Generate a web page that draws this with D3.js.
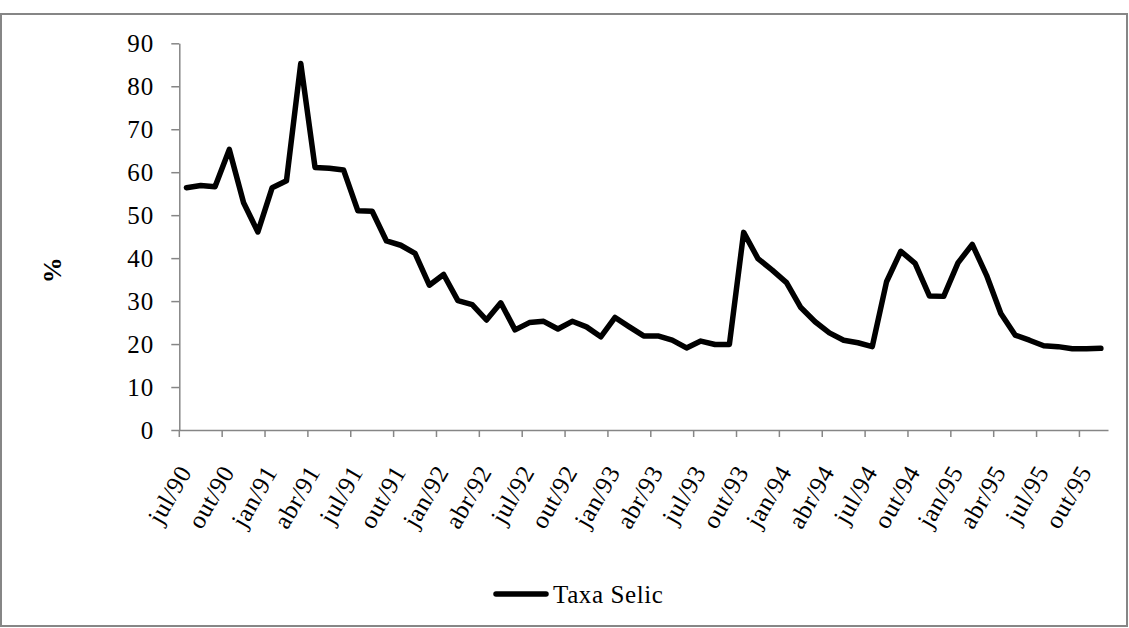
<!DOCTYPE html>
<html>
<head>
<meta charset="utf-8">
<script src="https://cdn.jsdelivr.net/npm/d3@7"></script>
<style>
  body { margin: 0; background: #fff; }
  text { font-family: "Liberation Serif", "DejaVu Serif", serif; letter-spacing: 0.6px; }
</style>
</head>
<body>
<div id="container"></div>
<script>
/* CONSTANTS AND GLOBALS */
const width = 1129,
  height = 628,
  margin = {top: 43.3, bottom: 198, left: 179.3, right: 21};

// monthly categories, jul/90 .. nov/95
const months = [
  "jul/90","ago/90","set/90","out/90","nov/90","dez/90",
  "jan/91","fev/91","mar/91","abr/91","mai/91","jun/91","jul/91","ago/91","set/91","out/91","nov/91","dez/91",
  "jan/92","fev/92","mar/92","abr/92","mai/92","jun/92","jul/92","ago/92","set/92","out/92","nov/92","dez/92",
  "jan/93","fev/93","mar/93","abr/93","mai/93","jun/93","jul/93","ago/93","set/93","out/93","nov/93","dez/93",
  "jan/94","fev/94","mar/94","abr/94","mai/94","jun/94","jul/94","ago/94","set/94","out/94","nov/94","dez/94",
  "jan/95","fev/95","mar/95","abr/95","mai/95","jun/95","jul/95","ago/95","set/95","out/95","nov/95"
];

// Taxa Selic (% a.a.)
const selic = [
  56.4, 56.9, 56.6, 65.3, 52.9, 46.1,
  56.4, 58.0, 85.3, 61.1, 60.9, 60.5, 51.0, 50.9, 44.0, 43.0, 41.1, 33.7,
  36.2, 30.1, 29.2, 25.6, 29.6, 23.3, 25.0, 25.3, 23.5, 25.3, 24.0, 21.7,
  26.2, 24.0, 21.9, 21.9, 20.9, 19.1, 20.7, 19.9, 19.9, 46.0, 39.9, 37.2,
  34.3, 28.5, 25.2, 22.6, 20.9, 20.3, 19.4, 34.5, 41.6, 38.8, 31.2, 31.1,
  38.9, 43.2, 36.0, 27.1, 22.1, 20.9, 19.6, 19.4, 18.9, 18.9, 19.0
];

// labelled months (every third)
const tickLabels = [
  "jul/90","out/90","jan/91","abr/91","jul/91","out/91","jan/92","abr/92",
  "jul/92","out/92","jan/93","abr/93","jul/93","out/93","jan/94","abr/94",
  "jul/94","out/94","jan/95","abr/95","jul/95","out/95"
];

const seriesName = "Taxa Selic";
const yTitle = "%";

const data = months.map((m, i) => ({month: m, value: selic[i]}));

const axisColor = "#868686";

//SVG
const svg = d3.select("#container")
  .append("svg")
  .attr("width", width)
  .attr("height", height);

// chart area border
svg.append("rect")
  .attr("x", 1)
  .attr("y", 14)
  .attr("width", 1126)
  .attr("height", 612)
  .attr("fill", "none")
  .attr("stroke", axisColor)
  .attr("stroke-width", 2);

// Scales
const xScale = d3.scaleBand()
  .domain(months)
  .range([margin.left, width - margin.right]);

const yScale = d3.scaleLinear()
  .domain([0, 90])
  .range([430, margin.top]);

const bw = xScale.bandwidth();

//Axis
const yAxis = d3.axisLeft(yScale)
  .ticks(10)
  .tickSize(8)
  .tickSizeOuter(0)
  .tickPadding(17);

const gy = svg.append("g")
  .attr("transform", `translate(${margin.left},0)`)
  .call(yAxis);
gy.select(".domain").attr("stroke", axisColor).attr("stroke-width", 1.5);
gy.selectAll(".tick line").attr("stroke", axisColor).attr("stroke-width", 1.5);
gy.selectAll(".tick text")
  .style("font-family", "Liberation Serif")
  .style("font-size", "25px")
  .style("letter-spacing", "1px")
  .attr("fill", "#000");

// x ticks sit between categories, every third month
const xAxis = d3.axisBottom(xScale)
  .tickValues(tickLabels)
  .tickSize(7)
  .tickSizeOuter(0)
  .tickFormat("");

const gx = svg.append("g")
  .attr("transform", `translate(0,${yScale(0)})`)
  .call(xAxis);
gx.selectAll(".tick").attr("transform", d => `translate(${xScale(d)},0)`);
gx.select(".domain").attr("stroke", axisColor).attr("stroke-width", 1.5);
gx.selectAll(".tick line").attr("stroke", axisColor).attr("stroke-width", 1.5);

// rotated month labels
svg.append("g")
  .selectAll("text")
  .data(tickLabels)
  .join("text")
  .attr("transform", d => `translate(${xScale(d) + bw / 2 + 6},${yScale(0) + 42}) rotate(-60)`)
  .attr("text-anchor", "end")
  .style("font-size", "25px")
  .attr("fill", "#000")
  .text(d => d);

// Draw Line
const lineGen = d3.line()
  .x(d => xScale(d.month) + bw / 2)
  .y(d => yScale(d.value));

svg.append("path")
  .datum(data)
  .attr("fill", "none")
  .attr("stroke", "#000")
  .attr("stroke-width", 5.5)
  .attr("stroke-linejoin", "round")
  .attr("stroke-linecap", "round")
  .attr("d", lineGen);

// Y Label
svg.append("text")
  .attr("x", -270)
  .attr("y", 61)
  .attr("transform", "rotate(-90)")
  .attr("text-anchor", "middle")
  .style("font-size", "26px")
  .style("font-weight", "bold")
  .text(yTitle);

// Legend
svg.append("line")
  .attr("x1", 496)
  .attr("x2", 546)
  .attr("y1", 594)
  .attr("y2", 594)
  .attr("stroke", "#000")
  .attr("stroke-width", 5.5)
  .attr("stroke-linecap", "round");

svg.append("text")
  .attr("x", 553)
  .attr("y", 603)
  .style("font-size", "25px")
  .text(seriesName);
</script>
</body>
</html>
